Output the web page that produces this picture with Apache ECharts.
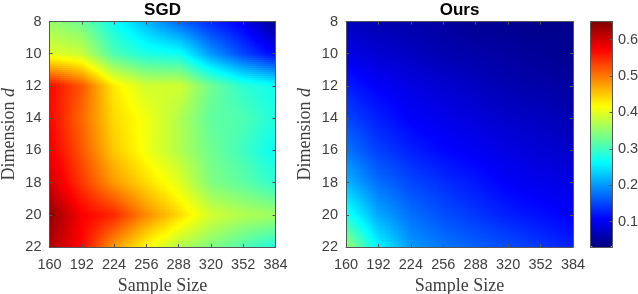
<!DOCTYPE html>
<html><head><meta charset="utf-8">
<style>html,body{margin:0;padding:0;background:#fff}#c{width:638px;height:294px}</style>
<script src="https://cdn.jsdelivr.net/npm/echarts@6/dist/echarts.min.js"></script>
</head><body><div id="c"></div>
<script>
const sampleSizes = [160,192,224,256,288,320,352,384];
const dimensions = [8,10,12,14,16,18,20,22];
const colorbarTicks = [0.1,0.2,0.3,0.4,0.5,0.6];
const jetStops = ['#000080','#0000ff','#0080ff','#00ffff','#80ff80','#ffff00','#ff8000','#ff0000','#800000'];
const colorMin = 0.03, colorMax = 0.65;
const sgd = [
 [.355,.33,.27,.22,.17,.13,.10,.04],
 [.40,.385,.31,.28,.27,.20,.15,.11],
 [.57,.52,.43,.39,.39,.33,.29,.27],
 [.57,.51,.44,.41,.37,.32,.31,.28],
 [.58,.52,.45,.41,.37,.33,.30,.265],
 [.60,.54,.48,.44,.40,.34,.32,.29],
 [.64,.575,.55,.49,.44,.39,.37,.36],
 [.62,.57,.48,.42,.37,.34,.31,.28]
];
const ours = [
 [.07,.06,.055,.05,.04,.04,.035,.04],
 [.095,.08,.07,.06,.055,.05,.045,.04],
 [.125,.105,.09,.08,.07,.06,.055,.05],
 [.15,.125,.105,.095,.085,.075,.07,.06],
 [.18,.145,.125,.11,.10,.09,.08,.075],
 [.22,.175,.15,.135,.12,.105,.095,.09],
 [.28,.21,.175,.155,.14,.125,.115,.105],
 [.36,.26,.20,.18,.165,.155,.14,.125]
];

const rgbStops = jetStops.map(h => [1,3,5].map(i => parseInt(h.substr(i,2),16)));
function jet(v){
  let t = (v-colorMin)/(colorMax-colorMin)*(rgbStops.length-1);
  t = Math.max(0,Math.min(rgbStops.length-1,t));
  const i = Math.min(rgbStops.length-2,Math.floor(t)), f = t-i;
  const c = rgbStops[i].map((a,k)=>Math.round(a+(rgbStops[i+1][k]-a)*f));
  return 'rgb('+c.join(',')+')';
}
function cells(m){
  const out=[];
  for(let r=0;r<dimensions.length-1;r++)for(let c=0;c<sampleSizes.length-1;c++)
    out.push([sampleSizes[c],dimensions[r],sampleSizes[c+1],dimensions[r+1],m[r][c],m[r][c+1],m[r+1][c],m[r+1][c+1]]);
  return out;
}
const SUB=16;
function renderCell(params,api){
  const p0=api.coord([api.value(0),api.value(1)]), p1=api.coord([api.value(2),api.value(3)]);
  const a=api.value(4),b=api.value(5),d=api.value(6),e=api.value(7);
  const w=(p1[0]-p0[0])/SUB,h=(p1[1]-p0[1])/SUB,kids=[];
  for(let j=0;j<SUB;j++)for(let i=0;i<SUB;i++){
    const u=(i+.5)/SUB,s=(j+.5)/SUB;
    const v=a*(1-u)*(1-s)+b*u*(1-s)+d*(1-u)*s+e*u*s;
    const x0=Math.round(p0[0]+i*w),x1=Math.round(p0[0]+(i+1)*w);
    const y0=Math.round(p0[1]+j*h),y1=Math.round(p0[1]+(j+1)*h);
    if(x1>x0&&y1>y0) kids.push({type:'rect',shape:{x:x0,y:y0,width:x1-x0,height:y1-y0},style:{fill:jet(v),stroke:null}});
  }
  return {type:'group',children:kids};
}
const textColor='#404040', lineColor='#555555';
const tickFont={fontFamily:'Liberation Sans',fontSize:14.5,color:textColor};
const nameFont={fontFamily:'Liberation Serif',fontSize:18,color:textColor};
const gridBase={outerBoundsMode:'none',containLabel:false};
const grids=[{...gridBase,left:49.5,top:21.5,width:226,height:225.5},{...gridBase,left:346,top:21.5,width:227,height:225.5},{...gridBase,left:590.5,top:21.5,width:22,height:225.5}];
const xAxes=[],yAxes=[];
const line={show:true,lineStyle:{color:lineColor,width:1}};
[0,1].forEach(g=>{
  xAxes.push({gridIndex:g,type:'value',min:160,max:384,interval:32,position:'bottom',z:5,
    splitLine:{show:false},axisLine:{...line,onZero:false},axisTick:{show:true,inside:true,length:3,lineStyle:{color:lineColor}},
    axisLabel:{...tickFont,margin:10,formatter:v=>v,showMinLabel:true,showMaxLabel:true,hideOverlap:false},
    name:'Sample Size',nameLocation:'middle',nameGap:30,nameTextStyle:nameFont});
  xAxes.push({gridIndex:g,type:'value',min:160,max:384,interval:32,position:'top',z:5,
    splitLine:{show:false},axisLine:{...line,onZero:false},axisTick:{show:true,inside:true,length:3,lineStyle:{color:lineColor}},axisLabel:{show:false}});
  yAxes.push({gridIndex:g,type:'value',inverse:true,min:8,max:22,interval:2,position:'left',z:5,
    splitLine:{show:false},axisLine:{...line,onZero:false},axisTick:{show:true,inside:true,length:3,lineStyle:{color:lineColor}},
    axisLabel:{...tickFont,margin:8,showMinLabel:true,showMaxLabel:true,hideOverlap:false},
    name:'Dimension {i|d}',nameLocation:'middle',nameGap:31.5,nameRotate:90,
    nameTextStyle:{...nameFont,rich:{i:{...nameFont,fontStyle:'italic'}}}});
  yAxes.push({gridIndex:g,type:'value',inverse:true,min:8,max:22,interval:2,position:'right',z:5,
    splitLine:{show:false},axisLine:{...line,onZero:false},axisTick:{show:true,inside:true,length:3,lineStyle:{color:lineColor}},axisLabel:{show:false}});
});
xAxes.push({gridIndex:2,type:'value',min:0,max:1,position:'bottom',z:5,splitLine:{show:false},axisLine:{...line,onZero:false},axisTick:{show:false},axisLabel:{show:false}});
xAxes.push({gridIndex:2,type:'value',min:0,max:1,position:'top',z:5,splitLine:{show:false},axisLine:{...line,onZero:false},axisTick:{show:false},axisLabel:{show:false}});
yAxes.push({gridIndex:2,type:'value',min:colorMin,max:colorMax,position:'left',z:5,splitLine:{show:false},axisLine:{...line,onZero:false},axisTick:{show:false},axisLabel:{show:false}});
yAxes.push({gridIndex:2,type:'value',min:colorMin,max:colorMax,position:'right',z:5,splitLine:{show:false},axisLine:{...line,onZero:false},
  axisTick:{show:true,inside:true,length:3,lineStyle:{color:lineColor},customValues:colorbarTicks},
  axisLabel:{...tickFont,margin:5.5,customValues:colorbarTicks,formatter:v=>v.toFixed(1)}});
const chart=echarts.init(document.getElementById('c'),null,{renderer:'canvas'});
chart.setOption({
  animation:false,backgroundColor:'#fff',
  title:[
    {text:'SGD',left:162.5,top:0,padding:[2,0,0,0],textAlign:'center',textStyle:{fontFamily:'Liberation Sans',fontWeight:'bold',fontSize:17,color:'#000'}},
    {text:'Ours',left:459.5,top:0,padding:[2,0,0,0],textAlign:'center',textStyle:{fontFamily:'Liberation Sans',fontWeight:'bold',fontSize:17,color:'#000'}}
  ],
  grid:grids,xAxis:xAxes,yAxis:yAxes,
  visualMap:[{type:'continuous',min:colorMin,max:colorMax,left:590.5,top:21.5,itemWidth:22,itemHeight:225.5,
    calculable:false,realtime:false,text:null,seriesIndex:2,dimension:1,inRange:{color:jetStops},padding:0,hoverLink:false,textStyle:{fontSize:0}}],
  series:[
    {type:'custom',name:'SGD',xAxisIndex:0,yAxisIndex:0,coordinateSystem:'cartesian2d',data:cells(sgd),renderItem:renderCell,silent:true,clip:true,encode:{x:[0,2],y:[1,3]}},
    {type:'custom',name:'Ours',xAxisIndex:2,yAxisIndex:2,coordinateSystem:'cartesian2d',data:cells(ours),renderItem:renderCell,silent:true,clip:true,encode:{x:[0,2],y:[1,3]}},
    {type:'scatter',xAxisIndex:4,yAxisIndex:4,data:[],silent:true}
  ]
});
</script></body></html>
